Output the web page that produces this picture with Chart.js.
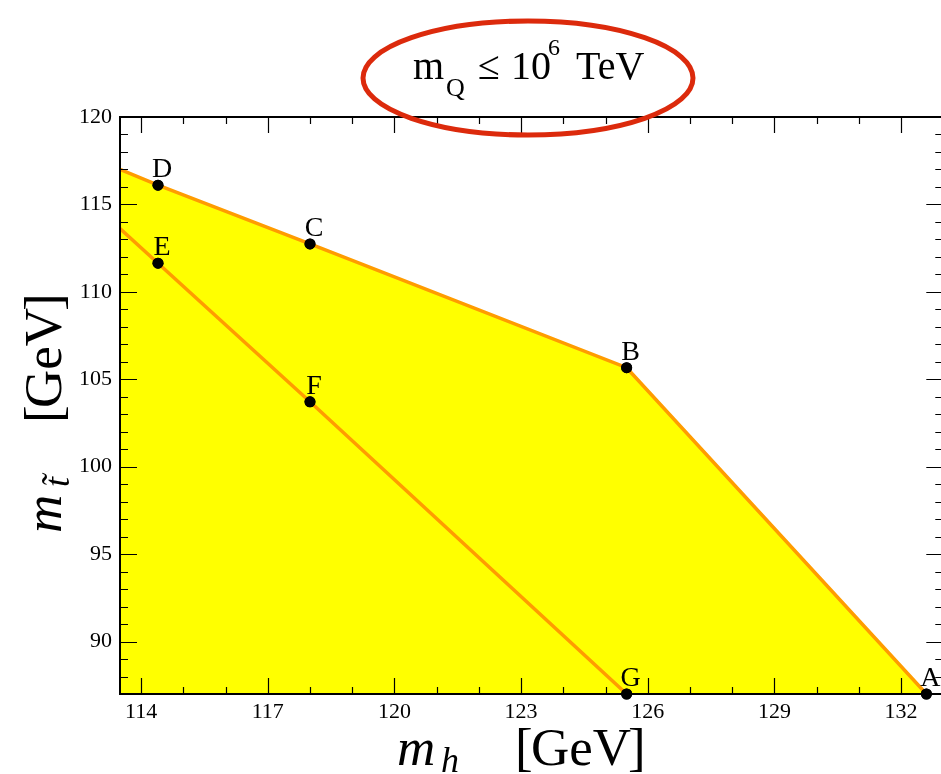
<!DOCTYPE html>
<html>
<head>
<meta charset="utf-8">
<script src="https://cdn.jsdelivr.net/npm/chart.js@4/dist/chart.umd.min.js"></script>
<style>
html,body{margin:0;padding:0;background:#fff;width:941px;height:774px;overflow:hidden;position:relative;}
#c{position:absolute;left:0;top:0;}
#ov{position:absolute;left:0;top:0;pointer-events:none;}
</style>
</head>
<body>
<canvas id="c" width="950" height="774"></canvas>
<svg id="ov" width="941" height="774" xmlns="http://www.w3.org/2000/svg" font-family="'Liberation Serif','Times New Roman',serif" fill="#000">
  <ellipse cx="528" cy="78" rx="165" ry="57" fill="none" stroke="#dc2a0c" stroke-width="5"/>
  <text font-size="40">
    <tspan x="413" y="79">m</tspan><tspan x="446" y="96" font-size="26">Q</tspan><tspan x="478" y="79">≤</tspan><tspan x="511" y="79">10</tspan><tspan x="548" y="55" font-size="24">6</tspan><tspan x="576" y="79">TeV</tspan>
  </text>
  <text font-size="53">
    <tspan x="397" y="765" font-style="italic">m</tspan><tspan x="441" y="772" font-size="36" font-style="italic">h</tspan><tspan x="515" y="765">[</tspan><tspan x="531" y="765">GeV</tspan><tspan x="628" y="765">]</tspan>
  </text>
  <g transform="translate(61,533) rotate(-90)">
    <text font-size="53">
      <tspan x="0" y="0" font-style="italic">m</tspan><tspan x="46" y="8" font-size="36" font-style="italic">t̃</tspan><tspan x="110" y="0">[</tspan><tspan x="125" y="0">GeV</tspan><tspan x="222" y="0">]</tspan>
    </text>
  </g>
</svg>
<script>
// ---- data ----
const upperX = [113.5, 114.4, 118.0, 125.5, 132.6];
const upperY = [117.0, 116.1, 112.74, 105.66, 87.0];
const lowerX = [113.5, 114.4, 118.0, 125.5];
const lowerY = [113.62, 111.64, 103.71, 87.0];
const pointNames = ['A', 'B', 'C', 'D', 'E', 'F', 'G'];
const pointX = [132.6, 125.5, 118.0, 114.4, 114.4, 118.0, 125.5];
const pointY = [87.0, 105.66, 112.74, 116.1, 111.64, 103.71, 87.0];
const xTickValues = [114, 117, 120, 123, 126, 129, 132];
const yTickValues = [90, 95, 100, 105, 110, 115, 120];
const xRange = [113.5, 133];
const yRange = [87, 120];

const zip = (xs, ys) => xs.map((x, i) => ({x: x, y: ys[i]}));
const SERIF = "'Liberation Serif', 'Times New Roman', serif";

const framePlugin = {
  id: 'frame',
  afterDraw(chart) {
    const {ctx, chartArea: a, scales: {x, y}} = chart;
    ctx.save();
    ctx.strokeStyle = '#000';
    ctx.lineWidth = 1.2;
    // ticks (inward, all four sides)
    for (let v = Math.ceil(xRange[0]); v <= xRange[1]; v++) {
      const px = Math.round(x.getPixelForValue(v)) + 0.5;
      const len = xTickValues.includes(v) ? 16 : 7;
      ctx.beginPath();
      ctx.moveTo(px, a.bottom); ctx.lineTo(px, a.bottom - len);
      ctx.moveTo(px, a.top); ctx.lineTo(px, a.top + len);
      ctx.stroke();
    }
    for (let v = Math.ceil(yRange[0]); v <= yRange[1]; v++) {
      const py = Math.round(y.getPixelForValue(v)) + 0.5;
      const len = yTickValues.includes(v) ? 17 : 8;
      ctx.beginPath();
      ctx.moveTo(a.left, py); ctx.lineTo(a.left + len, py);
      ctx.moveTo(a.right, py); ctx.lineTo(a.right - len, py);
      ctx.stroke();
    }
    ctx.lineWidth = 2;
    ctx.strokeRect(a.left, a.top, a.right - a.left, a.bottom - a.top);
    // point labels
    const meta = chart.getDatasetMeta(2);
    ctx.fillStyle = '#000';
    ctx.font = '28px ' + SERIF;
    ctx.textAlign = 'center';
    ctx.textBaseline = 'alphabetic';
    meta.data.forEach((pt, i) => {
      ctx.fillText(pointNames[i], pt.x + 4, pt.y - 8);
    });
    // points on top of frame
    meta.data.forEach((pt) => {
      ctx.beginPath();
      ctx.arc(pt.x, pt.y, 5.5, 0, Math.PI * 2);
      ctx.fill();
    });
    ctx.restore();
  }
};

new Chart(document.getElementById('c'), {
  type: 'line',
  data: {
    datasets: [
      {
        data: zip(upperX, upperY),
        order: 3,
        borderColor: '#ff9c00',
        borderWidth: 3.5,
        backgroundColor: '#ffff00',
        fill: 'start',
        pointRadius: 0,
        tension: 0
      },
      {
        data: zip(lowerX, lowerY),
        order: 2,
        borderColor: '#ff9c00',
        borderWidth: 3.5,
        fill: false,
        pointRadius: 0,
        tension: 0
      },
      {
        data: zip(pointX, pointY),
        order: 1,
        showLine: false,
        pointRadius: 5.5,
        pointBackgroundColor: '#000',
        pointBorderWidth: 0,
        clip: false
      }
    ]
  },
  options: {
    responsive: false,
    animation: false,
    devicePixelRatio: 1,
    layout: {padding: {top: 117, right: 6.7, left: 0, bottom: 0}},
    plugins: {legend: {display: false}, tooltip: {enabled: false}},
    scales: {
      x: {
        type: 'linear',
        min: xRange[0], max: xRange[1],
        grid: {display: false, drawTicks: false},
        border: {display: false},
        afterBuildTicks: s => { s.ticks = xTickValues.map(v => ({value: v})); },
        afterFit: s => { s.height = 80; },
        ticks: {font: {family: SERIF, size: 22}, color: '#000', padding: 5, maxRotation: 0, autoSkip: false}
      },
      y: {
        type: 'linear',
        min: yRange[0], max: yRange[1],
        grid: {display: false, drawTicks: false},
        border: {display: false},
        afterBuildTicks: s => { s.ticks = yTickValues.map(v => ({value: v})); },
        afterFit: s => { s.width = 120; },
        ticks: {font: {family: SERIF, size: 22}, color: '#000', padding: 8, autoSkip: false}
      }
    }
  },
  plugins: [framePlugin]
});
</script>
</body>
</html>
